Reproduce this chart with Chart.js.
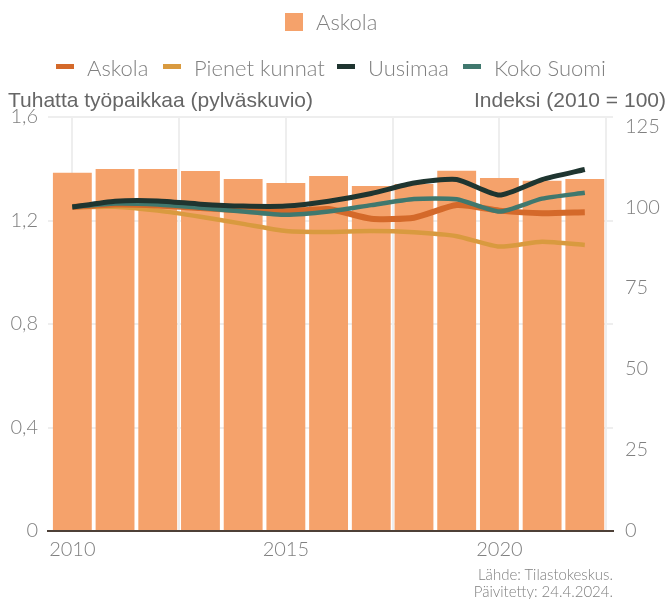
<!DOCTYPE html>
<html>
<head>
<meta charset="utf-8">
<script src="https://cdn.jsdelivr.net/npm/chart.js@4"></script>
<style>
  html, body { margin: 0; padding: 0; background: #fff; }
  #wrap { position: relative; width: 668px; height: 599px; }
  canvas { position: absolute; left: 0; top: 0; }
  .txt { position: absolute; font-family: Lato, sans-serif; font-weight: 300; color: #808080; white-space: nowrap; }
  .ttl { position: absolute; font-family: "Liberation Sans", Arial, sans-serif; color: #666; font-size: 21px; white-space: nowrap; }
  .box { position: absolute; width: 18px; height: 18px; }
  .mk { position: absolute; width: 18px; height: 5px; }
</style>
</head>
<body>
<div id="wrap">
  <canvas id="chart" width="668" height="599"></canvas>

  <div class="box" style="left:285px;top:13px;background:#F5A26B"></div>
  <div class="txt" style="left:316px;top:8px;font-size:22px">Askola</div>

  <div class="mk" style="left:56px;top:64px;background:#D4692A"></div>
  <div class="txt" style="left:87px;top:54px;font-size:22px">Askola</div>
  <div class="mk" style="left:163px;top:64px;background:#D99A3F"></div>
  <div class="txt" style="left:194px;top:54px;font-size:22px">Pienet kunnat</div>
  <div class="mk" style="left:337px;top:64px;background:#1F3530"></div>
  <div class="txt" style="left:368px;top:54px;font-size:22px">Uusimaa</div>
  <div class="mk" style="left:463px;top:64px;background:#40786E"></div>
  <div class="txt" style="left:494px;top:54px;font-size:22px">Koko Suomi</div>

  <div class="ttl" style="left:8px;top:88px">Tuhatta työpaikkaa (pylväskuvio)</div>
  <div class="ttl" style="right:2px;top:88px">Indeksi (2010 = 100)</div>

  <div class="txt" style="right:55px;top:566px;font-size:15px;text-align:right;line-height:17px">Lähde: Tilastokeskus.<br>Päivitetty: 24.4.2024.</div>
</div>
<script>
var years = [2010, 2011, 2012, 2013, 2014, 2015, 2016, 2017, 2018, 2019, 2020, 2021, 2022]
// tuhatta työpaikkaa
var jobs = [1.385, 1.399, 1.399, 1.391, 1.360, 1.345, 1.372, 1.333, 1.341, 1.392, 1.364, 1.354, 1.360]
// indeksi 2010 = 100
var askola = [100, 100.8, 100.5, 99.7, 99.0, 98.6, 99.4, 96.4, 96.7, 100.6, 98.9, 98.1, 98.4]
var pienet = [100, 100.1, 98.9, 97.0, 94.8, 92.6, 92.3, 92.6, 92.2, 91.0, 87.8, 89.3, 88.3]
var uusimaa = [100, 101.8, 101.9, 100.9, 100.3, 100.3, 101.8, 104.2, 107.4, 108.5, 103.7, 108.5, 111.6]
var kokoSuomi = [100, 101.1, 100.8, 99.8, 98.6, 97.6, 98.6, 100.6, 102.5, 102.4, 98.6, 102.6, 104.4]

var xGrid = [2010, 2012.5, 2015, 2017.5, 2020, 2022.5]
var leftTicks = [0, 0.4, 0.8, 1.2, 1.6]
var rightTicks = [0, 25, 50, 75, 100, 125]

function pts(arr) {
    return arr.map(function (v, i) { return { x: years[i], y: v } })
}

function lineSet(label, arr, color, width, order) {
    return {
        type: 'line',
        label: label,
        data: pts(arr),
        yAxisID: 'yR',
        borderColor: color,
        backgroundColor: color,
        borderWidth: width,
        pointRadius: 0,
        tension: 0.2,
        order: order
    }
}

var tickFont = { family: 'Lato', size: 20, weight: 300 }

new Chart(document.getElementById('chart'), {
    type: 'bar',
    data: {
        datasets: [
            {
                label: 'Askola',
                data: pts(jobs),
                yAxisID: 'yL',
                backgroundColor: '#F5A26B',
                categoryPercentage: 1,
                barPercentage: 0.91,
                order: 10
            },
            lineSet('Pienet kunnat', pienet, '#D99A3F', 4.5, 4),
            lineSet('Askola', askola, '#D4692A', 6, 3),
            lineSet('Koko Suomi', kokoSuomi, '#40786E', 4.5, 2),
            lineSet('Uusimaa', uusimaa, '#1F3530', 5, 1)
        ]
    },
    options: {
        responsive: false,
        animation: false,
        layout: { padding: { top: 117, bottom: 0, left: 0, right: 0 } },
        plugins: { legend: { display: false }, tooltip: { enabled: false } },
        scales: {
            x: {
                type: 'linear',
                min: 2009.43,
                max: 2022.66,
                offset: false,
                afterBuildTicks: function (s) { s.ticks = xGrid.map(function (v) { return { value: v } }) },
                afterFit: function (s) { s.height = 68 },
                grid: { color: '#eeeeee', lineWidth: 2, drawTicks: false, offset: false },
                border: { color: '#4d4037', width: 2 },
                ticks: {
                    font: tickFont,
                    color: '#808080',
                    padding: 7,
                    maxRotation: 0,
                    autoSkip: false,
                    callback: function (v) { return v % 5 === 0 ? String(v) : '' }
                }
            },
            yL: {
                position: 'left',
                min: 0,
                max: 1.6,
                afterBuildTicks: function (s) { s.ticks = leftTicks.map(function (v) { return { value: v } }) },
                afterFit: function (s) { s.width = 48 },
                grid: { color: '#eeeeee', lineWidth: 2, drawTicks: false },
                border: { display: false },
                ticks: {
                    font: tickFont,
                    color: '#808080',
                    padding: 10,
                    callback: function (v) { return String(Math.round(v * 10) / 10).replace('.', ',') }
                }
            },
            yR: {
                position: 'right',
                min: 0,
                max: 127.8,
                afterBuildTicks: function (s) { s.ticks = rightTicks.map(function (v) { return { value: v } }) },
                afterFit: function (s) { s.width = 55 },
                grid: { display: false, drawTicks: false },
                border: { display: false },
                ticks: { font: tickFont, color: '#808080', padding: 12 }
            }
        }
    }
})
</script>
</body>
</html>
